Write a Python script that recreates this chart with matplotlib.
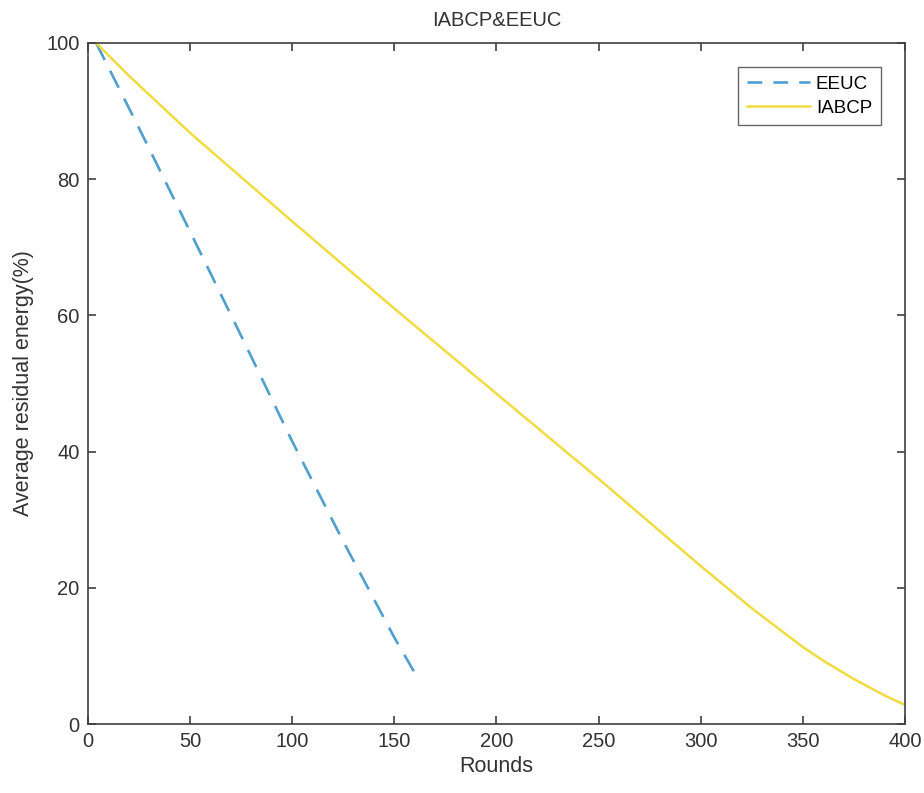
import matplotlib
matplotlib.use("Agg")
import matplotlib.pyplot as plt
from matplotlib.lines import Line2D

# Data
eeuc_rounds = [4, 25, 50, 75, 100, 125, 150, 160]
eeuc_energy = [100, 87.5, 72.3, 57.0, 41.5, 26.8, 12.7, 7.5]

iabcp_rounds = [4, 20, 50, 100, 150, 200, 250, 300, 325, 350, 360, 375, 390, 400]
iabcp_energy = [100, 95.2, 86.8, 73.8, 61.0, 48.5, 36.0, 23.2, 17.0, 11.3, 9.3, 6.6, 4.2, 2.8]

plt.rcParams["font.family"] = ["Liberation Sans", "DejaVu Sans"]

blue = "#4f9fd0"
yellow = "#f0dc40"

fig = plt.figure(figsize=(9.24, 7.93), dpi=100)
ax = fig.add_axes([0.0952, 0.087, 0.8842, 0.8588])

ax.plot(eeuc_rounds, eeuc_energy, color=blue, lw=1.9,
        linestyle=(0, (7.2, 4.6)), label="EEUC")
ax.plot(iabcp_rounds, iabcp_energy, color=yellow, lw=1.8, label="IABCP")

ax.set_xlim(0, 400)
ax.set_ylim(0, 100)
ax.set_xticks(range(0, 401, 50))
ax.set_yticks(range(0, 101, 20))

for s in ax.spines.values():
    s.set_color("#404040")
    s.set_linewidth(1.2)
ax.tick_params(direction="in", length=6, width=1.2, top=True, right=True,
               labelsize=14.5, colors="#404040", labelcolor="#333333", pad=6)

ax.set_xlabel("Rounds", fontsize=15.5, color="#333333", labelpad=3)
ax.set_ylabel("Average residual energy(%)", fontsize=15.5, color="#333333", labelpad=9)
ax.set_title("IABCP&EEUC", fontsize=14.5, color="#333333", pad=12)

# legend handles: the dashed sample shows three short dashes, as in the original
handles = [
    Line2D([], [], color=blue, lw=1.9, linestyle=(0, (5.6, 4.2))),
    Line2D([], [], color=yellow, lw=1.8),
]
leg = ax.legend(handles, ["EEUC", "IABCP"], loc="upper right", fontsize=13.5,
                fancybox=False, edgecolor="#404040", borderaxespad=1.3,
                handlelength=3.4, handletextpad=0.3, borderpad=0.45,
                labelspacing=0.35)
leg.get_frame().set_linewidth(1.0)

fig.savefig("out.png", dpi=100)
